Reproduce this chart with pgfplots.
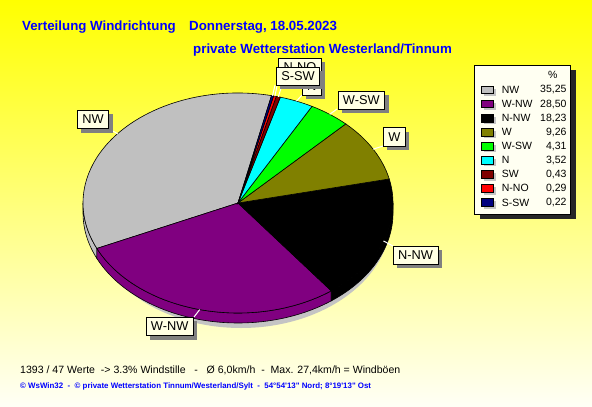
\documentclass[border=0pt]{standalone}
\usepackage{pgfplots}
\pgfplotsset{compat=1.18}
\usepackage{pgfplotstable}
\usepackage{fontspec}
\setmainfont{Liberation Sans}
\usetikzlibrary{shadows}

\definecolor{cNW}{RGB}{192,192,192}
\definecolor{cWNW}{RGB}{128,0,128}
\definecolor{cNNW}{RGB}{0,0,0}
\definecolor{cW}{RGB}{128,128,0}
\definecolor{cWSW}{RGB}{0,255,0}
\definecolor{cN}{RGB}{0,255,255}
\definecolor{cSW}{RGB}{128,0,0}
\definecolor{cNNO}{RGB}{255,0,0}
\definecolor{cSSW}{RGB}{0,0,128}
\definecolor{bgtop}{RGB}{255,255,0}
\definecolor{bgbot}{RGB}{255,255,246}
\definecolor{cream}{RGB}{255,255,228}
\definecolor{legbg}{RGB}{255,255,242}
\definecolor{shgrey}{RGB}{128,128,128}
\definecolor{pieshadow}{RGB}{196,196,196}
\definecolor{titleblue}{RGB}{0,0,255}

% name, percent, colour, label centre (px), leader end (px), label shown
\pgfplotstableread{
name  val    col   lx     ly     ex   ey   show
NW    35.25  cNW   93     119.5  109  129  1
W-NW  28.50  cWNW  169.7  326.3  194  317  1
N-NW  18.23  cNNW  415.5  255.2  393  246  1
W     9.26   cW    394.3  137    383  146  1
W-SW  4.31   cWSW  361.3  100.2  337  109  1
N     3.52   cN    311.7  86     302  95   1
SW    0.43   cSW   298    76.2   282  85   0
N-NO  0.29   cNNO  300    67.3   279  76   1
S-SW  0.22   cSSW  298    76.2   275  85   1
}\winddata

% pie centre in px, radii 155bp x 110bp, depth 10bp
\newcommand{\pcx}{238}
\newcommand{\pcy}{203}
\newcommand{\startang}{77.5}

\begin{document}
\begin{tikzpicture}
\begin{axis}[
    width=592bp, height=407bp, scale only axis,
    xmin=0, xmax=592, ymin=0, ymax=407,
    y dir=reverse,
    hide axis,
  ]
\pgfplotsextra{
  % background
  \shade[top color=bgtop, bottom color=bgbot]
    (axis cs:0,0) rectangle (axis cs:592,407);

  % titles
  \begin{scope}[every node/.style={inner sep=0pt, anchor=base west,
      font=\fontsize{13.3bp}{16bp}\selectfont\bfseries, text=titleblue}]
    \node at (axis cs:22,30.5) {Verteilung Windrichtung};
    \node at (axis cs:189,30.5) {Donnerstag, 18.05.2023};
    \node at (axis cs:193,53) {private Wetterstation Westerland/Tinnum};
  \end{scope}

  \pgfplotstablegetrowsof{\winddata}
  \pgfmathtruncatemacro{\nrows}{\pgfplotsretval-1}

  % shadow under the pie
  \fill[pieshadow] (axis cs:241,218) ellipse[x radius=150bp, y radius=110bp];

  % side of the pie (front half)
  \xdef\angA{\startang}
  \foreach \i in {0,...,\nrows}{
    \pgfplotstablegetelem{\i}{val}\of\winddata \let\v\pgfplotsretval
    \pgfplotstablegetelem{\i}{col}\of\winddata \let\slicecol\pgfplotsretval
    \pgfmathsetmacro{\angB}{\angA+3.6*\v}
    \pgfmathsetmacro{\sA}{max(\angA,180)}
    \pgfmathsetmacro{\eA}{min(\angB,360)}
    \ifdim\sA pt<\eA pt
      \filldraw[fill=\slicecol, draw=black, line width=0.6bp]
        (axis cs:\pcx,\pcy) ++(\sA:155bp and 110bp)
        arc[start angle=\sA, end angle=\eA, x radius=155bp, y radius=110bp]
        -- ++(0bp,-10bp)
        arc[start angle=\eA, end angle=\sA, x radius=155bp, y radius=110bp]
        -- cycle;
    \fi
    \xdef\angA{\angB}
  }

  % top face
  \xdef\angA{\startang}
  \foreach \i in {0,...,\nrows}{
    \pgfplotstablegetelem{\i}{val}\of\winddata \let\v\pgfplotsretval
    \pgfplotstablegetelem{\i}{col}\of\winddata \let\slicecol\pgfplotsretval
    \pgfmathsetmacro{\angB}{\angA+3.6*\v}
    \filldraw[fill=\slicecol, draw=black, line width=0.6bp]
      (axis cs:\pcx,\pcy) -- ++(\angA:155bp and 110bp)
      arc[start angle=\angA, end angle=\angB, x radius=155bp, y radius=110bp]
      -- cycle;
    \xdef\angA{\angB}
  }

  % leaders and labels
  \xdef\angA{\startang}
  \foreach \i in {0,...,\nrows}{
    \pgfplotstablegetelem{\i}{val}\of\winddata \let\v\pgfplotsretval
    \pgfplotstablegetelem{\i}{name}\of\winddata \let\nm\pgfplotsretval
    \pgfplotstablegetelem{\i}{lx}\of\winddata \let\lx\pgfplotsretval
    \pgfplotstablegetelem{\i}{ly}\of\winddata \let\ly\pgfplotsretval
    \pgfplotstablegetelem{\i}{ex}\of\winddata \let\ex\pgfplotsretval
    \pgfplotstablegetelem{\i}{ey}\of\winddata \let\ey\pgfplotsretval
    \pgfplotstablegetelem{\i}{show}\of\winddata \let\shw\pgfplotsretval
    \pgfmathsetmacro{\angB}{\angA+3.6*\v}
    \pgfmathsetmacro{\angM}{(\angA+\angB)/2}
    \draw[white, line width=1bp]
      (axis cs:\pcx,\pcy) ++(\angM:155bp and 110bp) -- (axis cs:\ex,\ey);
    \ifnum\shw=1
      \node[fill=cream, draw=black, line width=0.8bp, inner xsep=5bp, inner ysep=0pt,
        minimum height=18.5bp, font=\fontsize{12.8bp}{14bp}\selectfont,
        drop shadow={shadow xshift=4bp, shadow yshift=-4bp, fill=shgrey,
          opacity=1, draw=none}]
        at (axis cs:\lx,\ly) {\nm};
    \fi
    \xdef\angA{\angB}
  }

  % legend
  \fill[black!85] (axis cs:479.5,70) rectangle (axis cs:576,219);
  \filldraw[fill=legbg, draw=black, line width=0.8bp]
    (axis cs:474.3,65) rectangle (axis cs:570.7,214.3);
  \node[font=\fontsize{10.5bp}{12bp}\selectfont, inner sep=0pt]
    at (axis cs:552.7,75) {\%};
  \foreach \i in {0,...,\nrows}{
    \pgfplotstablegetelem{\i}{val}\of\winddata \let\v\pgfplotsretval
    \pgfplotstablegetelem{\i}{name}\of\winddata \let\nm\pgfplotsretval
    \pgfplotstablegetelem{\i}{col}\of\winddata \let\slicecol\pgfplotsretval
    \pgfmathsetmacro{\rowy}{90+14.05*\i}
    \fill[pieshadow] (axis cs:484.2,\rowy-1.2) rectangle (axis cs:495.8,\rowy+6.2);
    \filldraw[fill=\slicecol, draw=black, line width=0.6bp]
      (axis cs:481.7,\rowy-3.7) rectangle (axis cs:493.3,\rowy+3.7);
    \node[anchor=west, inner sep=0pt, font=\fontsize{10.5bp}{12bp}\selectfont]
      at (axis cs:501.7,\rowy) {\nm};
    \node[anchor=east, inner sep=0pt, font=\fontsize{10.5bp}{12bp}\selectfont]
      at (axis cs:566.7,\rowy)
      {\pgfmathprintnumber[fixed, fixed zerofill, precision=2, use comma,
        assume math mode=true]{\v}};
  }

  % footer
  \node[anchor=base west, inner sep=0pt, font=\fontsize{10.55bp}{12bp}\selectfont]
    at (axis cs:20,373)
    {1393 / 47 Werte\ \ -> 3.3\% Windstille\ \ \ -\ \ \ Ø 6,0km/h\ \ -\ \ Max. 27,4km/h = Windböen};
  \node[anchor=base west, inner sep=0pt, text=titleblue,
    font=\fontsize{7.9bp}{9bp}\selectfont\bfseries]
    at (axis cs:20,388.5)
    {© WsWin32\ \ -\ \ © private Wetterstation Tinnum/Westerland/Sylt\ \ -\ \ 54°54\textquotesingle13\textquotedbl\ Nord; 8°19\textquotesingle13\textquotedbl\ Ost};
}
\end{axis}
\end{tikzpicture}
\end{document}
